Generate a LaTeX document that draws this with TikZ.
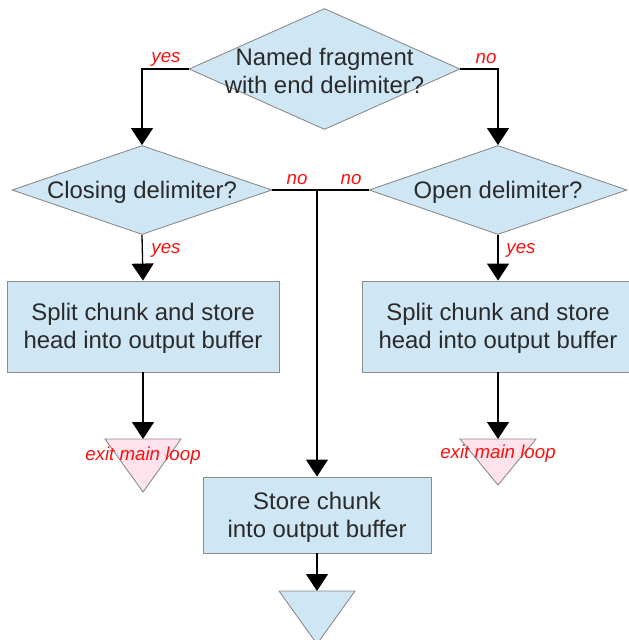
\documentclass[tikz,border=0pt]{standalone}
\usepackage{fontspec}
\setmainfont{Liberation Sans}
\usetikzlibrary{shapes.geometric,arrows.meta,calc}

\definecolor{boxfill}{HTML}{CFE6F4}
\definecolor{exitfill}{HTML}{FFE3EC}
\definecolor{edgegray}{HTML}{8C8C8C}
\definecolor{bodytext}{HTML}{2A2A2A}
\definecolor{answer}{HTML}{FF1010}

\tikzset{
  decision/.style={diamond, draw=edgegray, fill=boxfill, line width=0.9pt,
    inner sep=0pt, minimum width=#1},
  decision/.default=260pt,
  inside/.style={text=bodytext, font=\fontsize{23.9}{28}\selectfont, align=center, yshift=-2pt},
  process/.style={rectangle, draw=edgegray, fill=boxfill, line width=0.9pt, inner sep=0pt},
  answerlabel/.style={text=answer, font=\fontsize{18.7}{20}\selectfont\itshape, inner sep=0pt},
  flow/.style={line width=1.3pt, -{Triangle[length=17pt,width=22pt]}},
  wire/.style={line width=1.3pt},
  exitmark/.style={draw=edgegray, fill=exitfill, line width=0.9pt},
  endmark/.style={draw=edgegray, fill=boxfill, line width=0.9pt},
}

\begin{document}
\begin{tikzpicture}[x=1pt,y=-1pt]
  \useasboundingbox (0,0) rectangle (629,640);

  % decisions
  \node[decision=271pt, minimum height=121pt,
        label={[inside]center:Named fragment\\with end delimiter?}] (named) at (324.5,69) {};
  \node[decision=260pt, minimum height=89pt,
        label={[inside]center:Closing delimiter?}] (closing) at (142,190) {};
  \node[decision=258pt, minimum height=89pt,
        label={[inside]center:Open delimiter?}] (open) at (498,190) {};

  % processing steps
  \node[process, minimum width=272pt, minimum height=91pt,
        label={[inside]center:Split chunk and store\\head into output buffer}] (splitL) at (143,326.5) {};
  \node[process, minimum width=272pt, minimum height=91pt,
        label={[inside]center:Split chunk and store\\head into output buffer}] (splitR) at (498,326.5) {};
  \node[process, minimum width=228pt, minimum height=76pt,
        label={[inside]center:Store chunk\\into output buffer}] (store) at (317,515) {};

  % terminators
  \coordinate (exitL) at (143,439);
  \coordinate (exitR) at (498,439);
  \coordinate (finish) at (317,591);
  \draw[exitmark] ($(exitL)+(-38,0)$) -- ($(exitL)+(38,0)$) -- ($(exitL)+(0,53)$) -- cycle;
  \draw[exitmark] ($(exitR)+(-38,0)$) -- ($(exitR)+(38,0)$) -- ($(exitR)+(0,46)$) -- cycle;
  \draw[endmark] ($(finish)+(-38,0)$) -- ($(finish)+(38,0)$) -- ($(finish)+(0,53)$) -- cycle;

  % connectors
  \draw[flow] (named.west) -| (closing.north);
  \draw[flow] (named.east) -| (open.north);
  \draw[flow] (closing.south) -- (splitL.north);
  \draw[flow] (open.south) -- (splitR.north);
  \draw[wire] (closing.east) -- (open.west);
  \coordinate (merge) at (317,190);
  \draw[flow] (merge) -- (store.north);
  \draw[flow] (splitL.south) -- (exitL);
  \draw[flow] (splitR.south) -- (exitR);
  \draw[flow] (store.south) -- (finish);

  % answer labels
  \node[answerlabel] at (166,59) {yes};
  \node[answerlabel] at (486,59) {no};
  \node[answerlabel] at (297,180) {no};
  \node[answerlabel] at (351,180) {no};
  \node[answerlabel] at (166,250) {yes};
  \node[answerlabel] at (521,250) {yes};
  \node[answerlabel] at (143,456) {exit main loop};
  \node[answerlabel] at (498,454) {exit main loop};
\end{tikzpicture}
\end{document}
